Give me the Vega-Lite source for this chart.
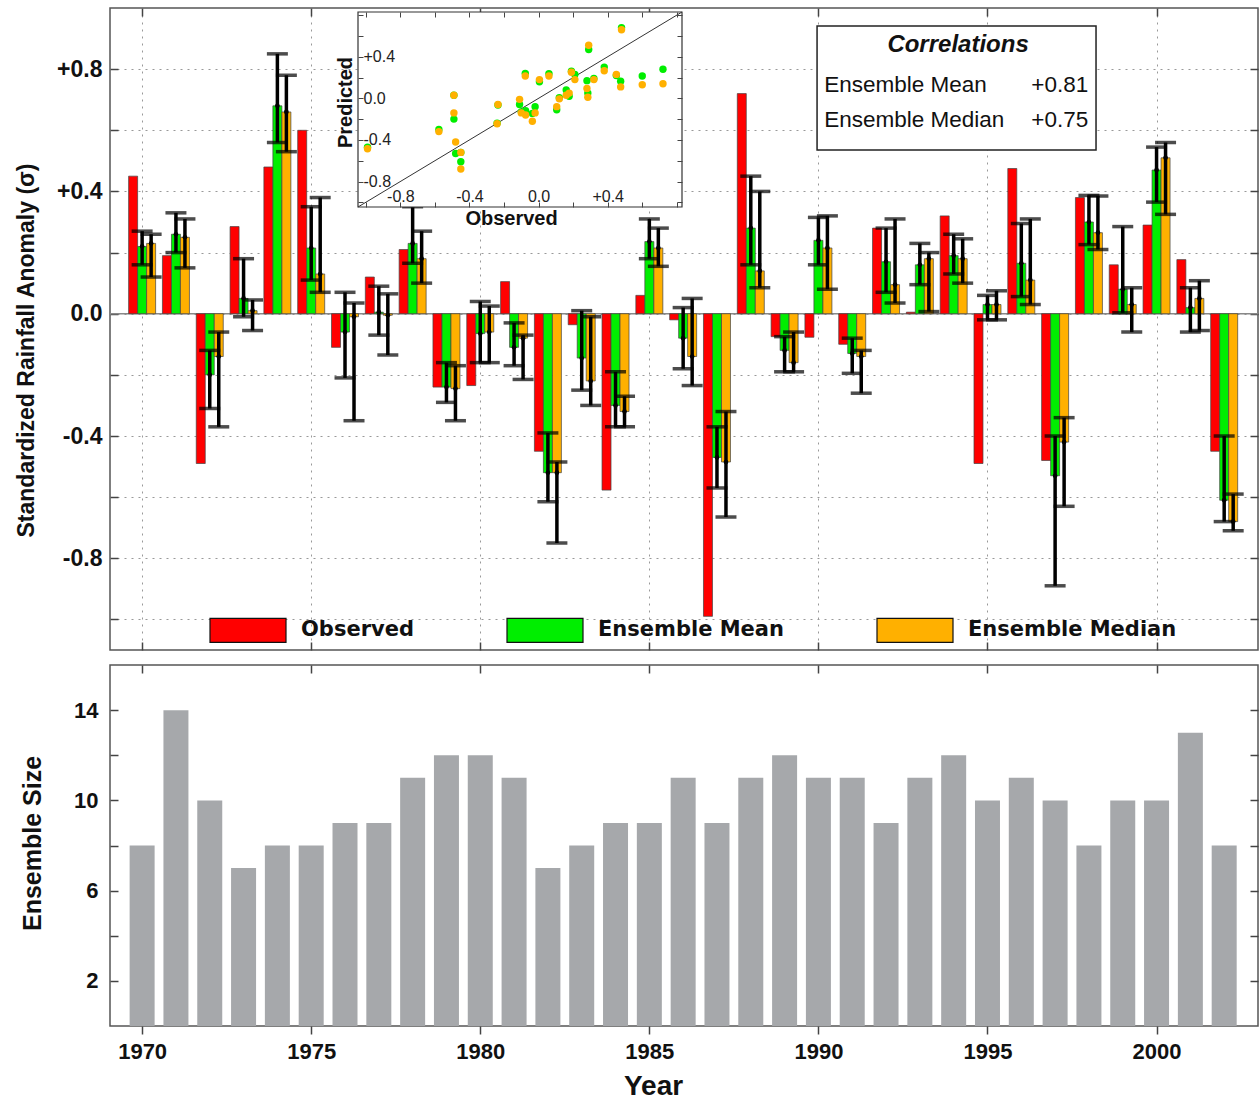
{
  "$schema": "https://vega.github.io/schema/vega-lite/v6.json",
  "background": "white",
  "padding": {"left": 14, "top": 6, "right": 1, "bottom": 0},
  "autosize": {"type": "pad"},
  "config": {
    "font": "Liberation Sans",
    "view": {"stroke": "#555", "strokeWidth": 1.5},
    "axis": {"domain": false, "labelColor": "#111", "titleColor": "#111", "tickColor": "#444"}
  },
  "spacing": 15,
  "bounds": "flush",
  "data": {
    "values": [
      {"year": 1970, "obs": 0.45, "mean": 0.22, "mlo": 0.16, "mhi": 0.27, "med": 0.23, "dlo": 0.12, "dhi": 0.26, "n": 8},
      {"year": 1971, "obs": 0.19, "mean": 0.26, "mlo": 0.2, "mhi": 0.33, "med": 0.25, "dlo": 0.15, "dhi": 0.31, "n": 14},
      {"year": 1972, "obs": -0.49, "mean": -0.2, "mlo": -0.31, "mhi": -0.12, "med": -0.14, "dlo": -0.37, "dhi": -0.06, "n": 10},
      {"year": 1973, "obs": 0.285, "mean": 0.05, "mlo": -0.01, "mhi": 0.18, "med": 0.01, "dlo": -0.055, "dhi": 0.045, "n": 7},
      {"year": 1974, "obs": 0.48, "mean": 0.68, "mlo": 0.56, "mhi": 0.85, "med": 0.66, "dlo": 0.53, "dhi": 0.78, "n": 8},
      {"year": 1975, "obs": 0.6, "mean": 0.215, "mlo": 0.11, "mhi": 0.35, "med": 0.13, "dlo": 0.07, "dhi": 0.38, "n": 8},
      {"year": 1976, "obs": -0.11, "mean": -0.06, "mlo": -0.21, "mhi": 0.07, "med": -0.01, "dlo": -0.35, "dhi": 0.035, "n": 9},
      {"year": 1977, "obs": 0.12, "mean": 0.005, "mlo": -0.07, "mhi": 0.09, "med": -0.005, "dlo": -0.135, "dhi": 0.065, "n": 9},
      {"year": 1978, "obs": 0.21, "mean": 0.23, "mlo": 0.165, "mhi": 0.35, "med": 0.18, "dlo": 0.1, "dhi": 0.27, "n": 11},
      {"year": 1979, "obs": -0.24, "mean": -0.24, "mlo": -0.29, "mhi": -0.16, "med": -0.245, "dlo": -0.35, "dhi": -0.17, "n": 12},
      {"year": 1980, "obs": -0.235, "mean": -0.065, "mlo": -0.16, "mhi": 0.04, "med": -0.06, "dlo": -0.16, "dhi": 0.025, "n": 12},
      {"year": 1981, "obs": 0.105, "mean": -0.11, "mlo": -0.17, "mhi": -0.03, "med": -0.08, "dlo": -0.215, "dhi": -0.07, "n": 11},
      {"year": 1982, "obs": -0.45, "mean": -0.52, "mlo": -0.615, "mhi": -0.39, "med": -0.52, "dlo": -0.75, "dhi": -0.485, "n": 7},
      {"year": 1983, "obs": -0.036, "mean": -0.145, "mlo": -0.25, "mhi": 0.01, "med": -0.22, "dlo": -0.3, "dhi": -0.01, "n": 8},
      {"year": 1984, "obs": -0.577, "mean": -0.3, "mlo": -0.37, "mhi": -0.19, "med": -0.32, "dlo": -0.37, "dhi": -0.27, "n": 9},
      {"year": 1985, "obs": 0.06, "mean": 0.236, "mlo": 0.18, "mhi": 0.31, "med": 0.215, "dlo": 0.155, "dhi": 0.28, "n": 9},
      {"year": 1986, "obs": -0.02, "mean": -0.08, "mlo": -0.18, "mhi": 0.02, "med": -0.14, "dlo": -0.235, "dhi": 0.05, "n": 11},
      {"year": 1987, "obs": -0.99, "mean": -0.47, "mlo": -0.57, "mhi": -0.37, "med": -0.485, "dlo": -0.665, "dhi": -0.32, "n": 9},
      {"year": 1988, "obs": 0.72, "mean": 0.28, "mlo": 0.16, "mhi": 0.45, "med": 0.14, "dlo": 0.085, "dhi": 0.4, "n": 11},
      {"year": 1989, "obs": -0.075, "mean": -0.12, "mlo": -0.19, "mhi": -0.075, "med": -0.16, "dlo": -0.19, "dhi": -0.06, "n": 12},
      {"year": 1990, "obs": -0.077, "mean": 0.24, "mlo": 0.16, "mhi": 0.315, "med": 0.215, "dlo": 0.08, "dhi": 0.32, "n": 11},
      {"year": 1991, "obs": -0.1, "mean": -0.13, "mlo": -0.195, "mhi": -0.08, "med": -0.14, "dlo": -0.26, "dhi": -0.12, "n": 11},
      {"year": 1992, "obs": 0.28, "mean": 0.17, "mlo": 0.07, "mhi": 0.28, "med": 0.095, "dlo": 0.035, "dhi": 0.31, "n": 9},
      {"year": 1993, "obs": 0.005, "mean": 0.16, "mlo": 0.095, "mhi": 0.23, "med": 0.18, "dlo": 0.007, "dhi": 0.2, "n": 11},
      {"year": 1994, "obs": 0.32, "mean": 0.19, "mlo": 0.13, "mhi": 0.26, "med": 0.18, "dlo": 0.1, "dhi": 0.245, "n": 12},
      {"year": 1995, "obs": -0.49, "mean": 0.03, "mlo": -0.02, "mhi": 0.06, "med": 0.03, "dlo": -0.02, "dhi": 0.075, "n": 10},
      {"year": 1996, "obs": 0.475, "mean": 0.165, "mlo": 0.056, "mhi": 0.295, "med": 0.11, "dlo": 0.03, "dhi": 0.31, "n": 11},
      {"year": 1997, "obs": -0.48, "mean": -0.53, "mlo": -0.89, "mhi": -0.4, "med": -0.42, "dlo": -0.63, "dhi": -0.34, "n": 10},
      {"year": 1998, "obs": 0.38, "mean": 0.3, "mlo": 0.226, "mhi": 0.387, "med": 0.265, "dlo": 0.21, "dhi": 0.385, "n": 8},
      {"year": 1999, "obs": 0.16, "mean": 0.08, "mlo": 0.003, "mhi": 0.285, "med": 0.03, "dlo": -0.06, "dhi": 0.085, "n": 10},
      {"year": 2000, "obs": 0.29, "mean": 0.47, "mlo": 0.365, "mhi": 0.545, "med": 0.51, "dlo": 0.325, "dhi": 0.56, "n": 10},
      {"year": 2001, "obs": 0.177, "mean": 0.02, "mlo": -0.06, "mhi": 0.085, "med": 0.05, "dlo": -0.055, "dhi": 0.108, "n": 13},
      {"year": 2002, "obs": -0.45, "mean": -0.61, "mlo": -0.68, "mhi": -0.4, "med": -0.68, "dlo": -0.71, "dhi": -0.59, "n": 8}
    ]
  },
  "vconcat": [
    {
      "width": 1148,
      "height": 642,
      "layer": [
        {
          "layer": [
            {
              "data": {"values": [{}]},
              "mark": {"type": "rule", "color": "#888", "strokeWidth": 1.5},
              "encoding": {"y": {"datum": 0, "type": "quantitative", "scale": {"domain": [-1.1, 1.0], "nice": false, "zero": false, "padding": 0}, "axis": null}}
            },
            {
              "mark": {"type": "bar", "width": 9, "xOffset": -9, "stroke": "#444", "strokeWidth": 0.7},
              "encoding": {
                "x": {"field": "year", "type": "quantitative", "scale": {"domain": [1969.05, 2003.0], "nice": false, "zero": false, "padding": 0},
                  "axis": {"orient": "bottom", "values": [1970, 1975, 1980, 1985, 1990, 1995, 2000], "labels": false, "tickSize": -8, "tickWidth": 1.5, "grid": true, "gridDash": [2, 5], "gridColor": "#999", "title": null}},
                "y": {"field": "obs", "type": "quantitative", "scale": {"domain": [-1.1, 1.0], "nice": false, "zero": false, "padding": 0},
                  "axis": {"orient": "left", "values": [-1, -0.8, -0.6, -0.4, -0.2, 0, 0.2, 0.4, 0.6, 0.8],
                    "labelExpr": "round(datum.value*10) % 4 == 0 ? (datum.value > 0.01 ? '+' : (datum.value < -0.01 ? '-' : '')) + format(abs(datum.value), '.1f') : ''",
                    "tickSize": -8, "tickWidth": 1.5, "grid": true, "gridDash": [2, 5], "gridColor": "#999",
                    "labelFontSize": 23, "labelFontWeight": "bold", "labelPadding": 16,
                    "title": "Standardized Rainfall Anomaly (σ)", "titleFontSize": 23, "titleFontWeight": "bold",
                    "titleX": -84, "titleY": 342, "titleAngle": 270, "titleAlign": "center", "titleBaseline": "middle"}},
                "y2": {"datum": 0},
                "color": {"datum": "obs", "type": "nominal",
                  "scale": {"domain": ["obs", "mean", "median"], "range": ["#ff0000", "#00ee00", "#ffb000"]},
                  "legend": {"orient": "none", "legendX": 99, "legendY": 583, "direction": "horizontal", "title": null,
                    "symbolType": "M-1,-0.316H1V0.316H-1Z", "symbolSize": 5776, "symbolStrokeColor": "#111", "symbolStrokeWidth": 1.2, "symbolOpacity": 1,
                    "labelFont": "DejaVu Sans", "labelFontSize": 21, "labelFontWeight": "bold", "labelColor": "#111", "labelOffset": 14, "labelLimit": 500, "columnPadding": 90,
                    "labelExpr": "datum.label == 'obs' ? 'Observed' : (datum.label == 'mean' ? 'Ensemble Mean' : 'Ensemble Median')"}}
              }
            },
            {
              "mark": {"type": "bar", "width": 9, "xOffset": 0, "stroke": "#444", "strokeWidth": 0.7},
              "encoding": {
                "x": {"field": "year", "type": "quantitative", "scale": {"domain": [1969.05, 2003.0], "nice": false, "zero": false, "padding": 0},
                  "axis": {"orient": "top", "values": [1970, 1975, 1980, 1985, 1990, 1995, 2000], "labels": false, "tickSize": -8, "tickWidth": 1.5, "grid": false, "title": null}},
                "y": {"field": "mean", "type": "quantitative", "scale": {"domain": [-1.1, 1.0], "nice": false, "zero": false, "padding": 0},
                  "axis": {"orient": "right", "values": [-1, -0.8, -0.6, -0.4, -0.2, 0, 0.2, 0.4, 0.6, 0.8], "labels": false, "tickSize": -8, "tickWidth": 1.5, "grid": false, "title": null}},
                "y2": {"datum": 0},
                "color": {"datum": "mean", "type": "nominal", "legend": null}
              }
            },
            {
              "mark": {"type": "bar", "width": 9, "xOffset": 9, "stroke": "#444", "strokeWidth": 0.7},
              "encoding": {
                "x": {"field": "year", "type": "quantitative", "axis": null},
                "y": {"field": "med", "type": "quantitative", "axis": null},
                "y2": {"datum": 0},
                "color": {"datum": "median", "type": "nominal", "legend": null}
              }
            },
            {
              "mark": {"type": "rule", "color": "#000", "strokeWidth": 3.5, "xOffset": 0},
              "encoding": {
                "x": {"field": "year", "type": "quantitative", "axis": null},
                "y": {"field": "mlo", "type": "quantitative", "axis": null},
                "y2": {"field": "mhi"}
              }
            },
            {
              "mark": {"type": "rule", "color": "#000", "strokeWidth": 3.5, "xOffset": 9},
              "encoding": {
                "x": {"field": "year", "type": "quantitative", "axis": null},
                "y": {"field": "dlo", "type": "quantitative", "axis": null},
                "y2": {"field": "dhi"}
              }
            },
            {
              "transform": [{"fold": ["mlo", "mhi"], "as": ["k", "v"]}],
              "mark": {"type": "tick", "orient": "horizontal", "size": 21, "thickness": 3.5, "color": "#000", "xOffset": 0},
              "encoding": {
                "x": {"field": "year", "type": "quantitative", "axis": null},
                "y": {"field": "v", "type": "quantitative", "axis": null}
              }
            },
            {
              "transform": [{"fold": ["dlo", "dhi"], "as": ["k", "v"]}],
              "mark": {"type": "tick", "orient": "horizontal", "size": 21, "thickness": 3.5, "color": "#000", "xOffset": 9},
              "encoding": {
                "x": {"field": "year", "type": "quantitative", "axis": null},
                "y": {"field": "v", "type": "quantitative", "axis": null}
              }
            },
            {
              "mark": {"type": "circle", "size": 22, "color": "#000", "opacity": 1, "xOffset": 0},
              "encoding": {
                "x": {"field": "year", "type": "quantitative", "axis": null},
                "y": {"field": "mean", "type": "quantitative", "axis": null}
              }
            },
            {
              "mark": {"type": "circle", "size": 22, "color": "#000", "opacity": 1, "xOffset": 9},
              "encoding": {
                "x": {"field": "year", "type": "quantitative", "axis": null},
                "y": {"field": "med", "type": "quantitative", "axis": null}
              }
            },
            {
              "data": {"values": [{}]},
              "mark": {"type": "rect", "fill": "#fff", "stroke": "#222", "strokeWidth": 1.5},
              "encoding": {
                "x": {"datum": 1989.96, "type": "quantitative", "axis": null},
                "x2": {"datum": 1998.21},
                "y": {"datum": 0.941, "type": "quantitative", "axis": null},
                "y2": {"datum": 0.5355}
              }
            },
            {
              "data": {"values": [{}]},
              "mark": {"type": "text", "text": "Correlations", "fontSize": 24, "fontWeight": "bold", "fontStyle": "italic", "align": "center", "baseline": "middle", "color": "#111"},
              "encoding": {
                "x": {"datum": 1994.13, "type": "quantitative", "axis": null},
                "y": {"datum": 0.879, "type": "quantitative", "axis": null}
              }
            },
            {
              "data": {"values": [{}]},
              "mark": {"type": "text", "text": "Ensemble Mean", "fontSize": 22.5, "align": "left", "baseline": "middle", "color": "#111"},
              "encoding": {
                "x": {"datum": 1990.17, "type": "quantitative", "axis": null},
                "y": {"datum": 0.748, "type": "quantitative", "axis": null}
              }
            },
            {
              "data": {"values": [{}]},
              "mark": {"type": "text", "text": "+0.81", "fontSize": 22.5, "align": "right", "baseline": "middle", "color": "#111"},
              "encoding": {
                "x": {"datum": 1997.98, "type": "quantitative", "axis": null},
                "y": {"datum": 0.748, "type": "quantitative", "axis": null}
              }
            },
            {
              "data": {"values": [{}]},
              "mark": {"type": "text", "text": "Ensemble Median", "fontSize": 22.5, "align": "left", "baseline": "middle", "color": "#111"},
              "encoding": {
                "x": {"datum": 1990.17, "type": "quantitative", "axis": null},
                "y": {"datum": 0.634, "type": "quantitative", "axis": null}
              }
            },
            {
              "data": {"values": [{}]},
              "mark": {"type": "text", "text": "+0.75", "fontSize": 22.5, "align": "right", "baseline": "middle", "color": "#111"},
              "encoding": {
                "x": {"datum": 1997.98, "type": "quantitative", "axis": null},
                "y": {"datum": 0.634, "type": "quantitative", "axis": null}
              }
            }
          ],
          "resolve": {"axis": {"x": "independent", "y": "independent"}}
        },
        {
          "layer": [
            {
              "data": {"values": [{}]},
              "mark": {"type": "rect", "fill": "#fff", "stroke": "#333", "strokeWidth": 1.2},
              "encoding": {
                "x": {"datum": -1.045, "type": "quantitative", "scale": {"domain": [-1.045, 0.83], "range": [248, 572], "nice": false, "zero": false},
                  "axis": {"orient": "bottom", "offset": -443, "zindex": 1, "values": [-1, -0.8, -0.6, -0.4, -0.2, 0, 0.2, 0.4, 0.6, 0.8], "labels": false, "tickSize": -5, "tickColor": "#444", "grid": false, "title": null}},
                "x2": {"datum": 0.83},
                "y": {"datum": -1.045, "type": "quantitative", "scale": {"domain": [-1.045, 0.83], "range": [199, 4], "nice": false, "zero": false},
                  "axis": {"orient": "left", "offset": -248, "zindex": 1, "values": [-1, -0.8, -0.6, -0.4, -0.2, 0, 0.2, 0.4, 0.6, 0.8], "labels": false, "tickSize": -5, "tickColor": "#444", "grid": false, "title": null}},
                "y2": {"datum": 0.83}
              }
            },
            {
              "data": {"values": [{}]},
              "mark": {"type": "rule", "color": "#333", "strokeWidth": 1},
              "encoding": {
                "x": {"datum": -1.045, "type": "quantitative", "scale": {"domain": [-1.045, 0.83], "range": [248, 572], "nice": false, "zero": false},
                  "axis": {"orient": "top", "offset": -4, "zindex": 1, "values": [-1, -0.8, -0.6, -0.4, -0.2, 0, 0.2, 0.4, 0.6, 0.8], "labels": false, "tickSize": -5, "tickColor": "#444", "grid": false, "title": null}},
                "x2": {"datum": 0.83},
                "y": {"datum": -1.045, "type": "quantitative", "scale": {"domain": [-1.045, 0.83], "range": [199, 4], "nice": false, "zero": false},
                  "axis": {"orient": "right", "offset": -576, "zindex": 1, "values": [-1, -0.8, -0.6, -0.4, -0.2, 0, 0.2, 0.4, 0.6, 0.8], "labels": false, "tickSize": -5, "tickColor": "#444", "grid": false, "title": null}},
                "y2": {"datum": 0.83}
              }
            },
            {
              "mark": {"type": "circle", "size": 55, "opacity": 1},
              "encoding": {
                "x": {"field": "obs", "type": "quantitative", "scale": {"domain": [-1.045, 0.83], "range": [248, 572], "nice": false, "zero": false},
                  "axis": {"orient": "bottom", "offset": -443, "zindex": 1, "values": [-0.8, -0.4, 0, 0.4], "ticks": false, "grid": false,
                    "labelExpr": "(datum.value > 0.01 ? '+' : (datum.value < -0.01 ? '-' : '')) + format(abs(datum.value), '.1f')",
                    "labelFontSize": 16, "labelPadding": -19, "labelBaseline": "top", "labelColor": "#222",
                    "title": "Observed", "titleFontSize": 20, "titleFontWeight": "bold", "titleX": 401, "titleY": 1, "titleAlign": "center", "titleBaseline": "top"}},
                "y": {"field": "mean", "type": "quantitative", "scale": {"domain": [-1.045, 0.83], "range": [199, 4], "nice": false, "zero": false},
                  "axis": {"orient": "left", "offset": -248, "zindex": 1, "values": [-0.8, -0.4, 0, 0.4], "ticks": false, "grid": false,
                    "labelExpr": "(datum.value > 0.01 ? '+' : (datum.value < -0.01 ? '-' : '')) + format(abs(datum.value), '.1f')",
                    "labelFontSize": 16, "labelPadding": -5, "labelAlign": "left", "labelBaseline": "middle", "labelColor": "#222",
                    "title": "Predicted", "titleFontSize": 20, "titleFontWeight": "bold", "titleX": -13, "titleY": 94, "titleAngle": 270, "titleAlign": "center", "titleBaseline": "middle"}},
                "color": {"datum": "mean", "type": "nominal", "legend": null}
              }
            },
            {
              "mark": {"type": "circle", "size": 55, "opacity": 1},
              "encoding": {
                "x": {"field": "obs", "type": "quantitative", "scale": {"domain": [-1.045, 0.83], "range": [248, 572], "nice": false, "zero": false}, "axis": null},
                "y": {"field": "med", "type": "quantitative", "scale": {"domain": [-1.045, 0.83], "range": [199, 4], "nice": false, "zero": false}, "axis": null},
                "color": {"datum": "median", "type": "nominal", "legend": null}
              }
            }
          ],
          "resolve": {"axis": {"x": "independent", "y": "independent"}}
        }
      ],
      "resolve": {"scale": {"x": "independent", "y": "independent"}}
    },
    {
      "width": 1148,
      "height": 361,
      "layer": [
        {
          "mark": {"type": "bar", "width": 25, "color": "#a6a8ab"},
          "encoding": {
            "x": {"field": "year", "type": "quantitative", "scale": {"domain": [1969.05, 2003.0], "nice": false, "zero": false, "padding": 0},
              "axis": {"orient": "bottom", "values": [1970, 1975, 1980, 1985, 1990, 1995, 2000], "format": "d", "tickSize": 8, "tickWidth": 1.5,
                "labelFontSize": 22, "labelFontWeight": "bold", "labelPadding": 7, "grid": false,
                "title": "Year", "titleFontSize": 28, "titleFontWeight": "bold", "titleX": 543, "titleY": 46, "titleAlign": "center", "titleBaseline": "top"}},
            "y": {"field": "n", "type": "quantitative", "scale": {"domain": [0, 16], "nice": false},
              "axis": {"orient": "left", "values": [2, 4, 6, 8, 10, 12, 14], "labelExpr": "datum.value % 4 == 2 ? datum.label : ''",
                "tickSize": -8, "tickWidth": 1.5, "grid": false, "labelFontSize": 22, "labelFontWeight": "bold", "labelPadding": 20,
                "title": "Ensemble Size", "titleFontSize": 25, "titleFontWeight": "bold", "titleX": -78, "titleY": 178, "titleAngle": 270, "titleAlign": "center", "titleBaseline": "middle"}}
          }
        },
        {
          "mark": {"type": "bar", "width": 25, "opacity": 0},
          "encoding": {
            "x": {"field": "year", "type": "quantitative", "scale": {"domain": [1969.05, 2003.0], "nice": false, "zero": false, "padding": 0},
              "axis": {"orient": "top", "values": [1970, 1975, 1980, 1985, 1990, 1995, 2000], "labels": false, "tickSize": -8, "tickWidth": 1.5, "grid": false, "title": null}},
            "y": {"field": "n", "type": "quantitative", "scale": {"domain": [0, 16], "nice": false},
              "axis": {"orient": "right", "values": [2, 4, 6, 8, 10, 12, 14], "labels": false, "tickSize": -8, "tickWidth": 1.5, "grid": false, "title": null}}
          }
        }
      ],
      "resolve": {"axis": {"x": "independent", "y": "independent"}}
    }
  ]
}
